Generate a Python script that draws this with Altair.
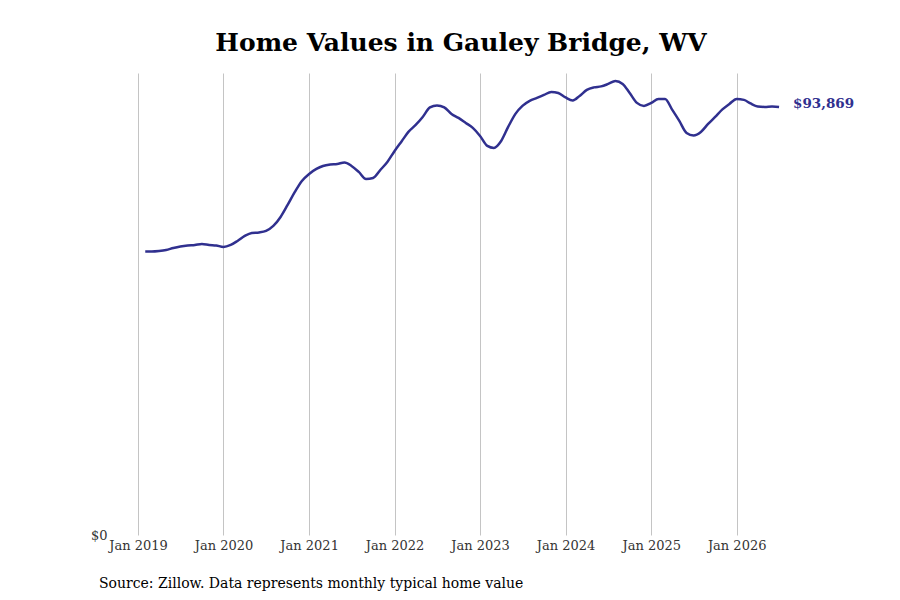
import altair as alt
import pandas as pd

TITLE = "Home Values in Gauley Bridge, WV"
SOURCE = "Source: Zillow. Data represents monthly typical home value"
LINE_COLOR = "#30308f"

# Monthly dates (first of month), Feb 2019 .. Jul 2026
months = pd.date_range("2019-02-01", "2026-07-01", freq="MS").strftime("%Y-%m-%d").tolist()

values = [
    # 2019 Feb-Dec
    62170, 62170, 62280, 62500, 62940, 63270, 63490, 63600, 63820, 63600, 63490,
    # 2020
    63160, 63600, 64470, 65570, 66230, 66340, 66670, 67760, 69740, 72370, 75220, 77630,
    # 2021
    79170, 80260, 80920, 81250, 81360, 81690, 80920, 79610, 78070, 78290, 80040, 81800,
    # 2022
    84210, 86400, 88380, 89910, 91670, 93750, 94190, 93750, 92330, 91450, 90350, 89260,
    # 2023
    87500, 85310, 84870, 86400, 89470, 92330, 94080, 95180, 95830, 96490, 97150, 96930,
    # 2024
    95940, 95290, 96270, 97590, 98140, 98360, 98900, 99560, 98900, 96930, 94740, 94080,
    # 2025
    94740, 95610, 95610, 93200, 90790, 88160, 87610, 88380, 90130, 91670, 93310, 94520,
    # 2026 Jan-Jul
    95610, 95400, 94630, 93970, 93860, 93970, 93869,
]

years = list(range(2019, 2027))

df = pd.DataFrame({"date": months, "value": values})
last = df.tail(1)

x_scale = alt.Scale(
    type="utc",
    domain=[alt.DateTime(year=2018, month=9, date=12, utc=True),
            alt.DateTime(year=2026, month=7, date=5, utc=True)],
)
y_scale = alt.Scale(domain=[0, 101300], nice=False, zero=True)

x_axis = alt.Axis(
    values=[alt.DateTime(year=y, month=1, date=1, utc=True) for y in years],
    format="%b %Y",
    title=None,
    grid=True,
    gridColor="#c4c4c4",
    gridWidth=1,
    ticks=False,
    domain=False,
    labelFont="DejaVu Serif",
    labelFontSize=13,
    labelColor="#333333",
    labelPadding=4,
)
y_axis = alt.Axis(
    values=[0],
    format="$,.0f",
    title=None,
    grid=False,
    ticks=False,
    domain=False,
    labelFont="DejaVu Serif",
    labelFontSize=13,
    labelColor="#333333",
    labelPadding=5,
)

base = alt.Chart(df)

line = base.mark_line(color=LINE_COLOR, strokeWidth=2.5, interpolate="monotone").encode(
    x=alt.X("date:T", scale=x_scale, axis=x_axis),
    y=alt.Y("value:Q", scale=y_scale, axis=y_axis),
)

end_label = alt.Chart(last).mark_text(
    align="left", baseline="middle", dx=14, dy=-3, font="DejaVu Serif", fontSize=13.5,
    fontWeight="bold", color=LINE_COLOR,
).encode(
    x=alt.X("date:T", scale=x_scale),
    y=alt.Y("value:Q", scale=y_scale),
    text=alt.Text("value:Q", format="$,.0f"),
)

source = alt.Chart(pd.DataFrame({"t": [SOURCE]})).mark_text(
    align="left", baseline="middle", font="DejaVu Serif", fontSize=14, color="#000000",
).encode(
    text="t:N",
    x=alt.value(-13),
    y=alt.value(511),
)

chart = alt.layer(line, end_label, source).properties(
    width=668,
    height=462,
    title=alt.TitleParams(
        TITLE, font="DejaVu Serif", fontSize=25, fontWeight="bold", color="#000000",
        anchor="middle", dx=15, offset=17,
    ),
    autosize=alt.AutoSizeParams(type="none"),
    padding={"left": 104, "top": 65, "right": 110, "bottom": 56},
).configure(background="#ffffff").configure_view(stroke="transparent", strokeWidth=0)

chart.save("out.html", embed_options={"renderer": "svg", "actions": False})
